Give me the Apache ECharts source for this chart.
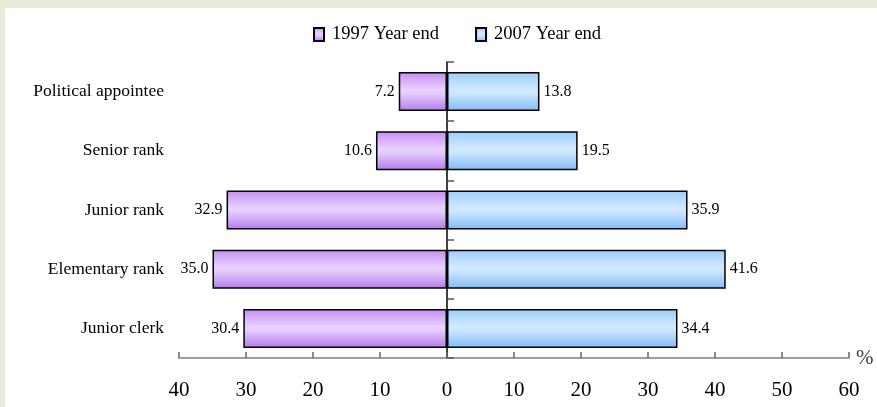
<!DOCTYPE html>
<html>
<head>
<meta charset="utf-8">
<script src="https://cdn.jsdelivr.net/npm/echarts@6/dist/echarts.min.js"></script>
<style>
html,body{margin:0;padding:0;background:#e9ead9;}
#c{width:877px;height:407px;}
</style>
</head>
<body>
<div id="c"></div>
<script>
const categories = ['Political appointee', 'Senior rank', 'Junior rank', 'Elementary rank', 'Junior clerk'];
const seriesNames = ['1997 Year end', '2007 Year end'];
const values1997 = [7.2, 10.6, 32.9, 35.0, 30.4];
const values2007 = [13.8, 19.5, 35.9, 41.6, 34.4];
const xTicks = { min: -40, max: 60, interval: 10 };

const FONT = 'Liberation Serif';
const purple = new echarts.graphic.LinearGradient(0, 0, 0, 1, [
  { offset: 0, color: '#c48cf5' },
  { offset: 0.45, color: '#e8d2ff' },
  { offset: 0.55, color: '#e4ccff' },
  { offset: 1, color: '#b57ae9' }
]);
const blue = new echarts.graphic.LinearGradient(0, 0, 0, 1, [
  { offset: 0, color: '#9dcdfc' },
  { offset: 0.45, color: '#d2e9ff' },
  { offset: 0.55, color: '#cde6ff' },
  { offset: 1, color: '#7fbcf5' }
]);

const chart = echarts.init(document.getElementById('c'), null, { renderer: 'canvas' });
chart.setOption({
  backgroundColor: '#e9ead9',
  animation: false,
  textStyle: { fontFamily: FONT },
  graphic: [{
    type: 'rect', z: -100, silent: true,
    shape: { x: 5, y: 8, width: 872, height: 399 },
    style: { fill: '#ffffff' }
  }],
  legend: {
    top: 20,
    left: 308,
    itemWidth: 10,
    itemHeight: 13,
    itemGap: 36,
    icon: 'rect',
    textStyle: { fontFamily: FONT, fontSize: 18.5, color: '#000', padding: [0, 0, 0, 3] },
    data: seriesNames
  },
  grid: { left: 179, right: 28, top: 62, bottom: 49 },
  xAxis: {
    type: 'value',
    min: xTicks.min, max: xTicks.max, interval: xTicks.interval,
    name: '%',
    nameLocation: 'end',
    nameGap: 7,
    nameTextStyle: { fontFamily: FONT, fontSize: 21, color: '#444', verticalAlign: 'middle' },
    axisLine: { show: true, onZero: false, lineStyle: { color: '#808080', width: 1.5 } },
    axisTick: { show: true, inside: true, length: 6, lineStyle: { color: '#666', width: 1.5 } },
    splitLine: { show: false },
    axisLabel: {
      margin: 22, fontFamily: FONT, fontSize: 21, color: '#000',
      formatter: v => String(Math.abs(v))
    }
  },
  yAxis: [{
    type: 'category',
    inverse: true,
    data: categories,
    axisLine: { show: false, onZero: false },
    axisTick: { show: false },
    axisLabel: { margin: 15, fontFamily: FONT, fontSize: 17.5, color: '#000' }
  }, {
    type: 'category',
    inverse: true,
    position: 'left',
    data: categories,
    axisLine: { show: true, onZero: true, lineStyle: { color: '#000', width: 1.5 } },
    axisTick: { show: true, inside: true, length: 7, lineStyle: { color: '#555', width: 1.5 } },
    axisLabel: { show: false }
  }],
  series: [{
    name: seriesNames[0],
    type: 'bar',
    yAxisIndex: 0,
    barWidth: 39,
    barGap: '-100%',
    data: values1997.map(v => -v),
    itemStyle: { color: purple, borderColor: '#000', borderWidth: 1.5 },
    label: {
      show: true, position: 'left', distance: 4,
      fontFamily: FONT, fontSize: 16, color: '#000',
      formatter: p => Math.abs(p.value).toFixed(1)
    }
  }, {
    name: seriesNames[1],
    type: 'bar',
    yAxisIndex: 0,
    barWidth: 39,
    barGap: '-100%',
    data: values2007,
    itemStyle: { color: blue, borderColor: '#000', borderWidth: 1.5 },
    label: {
      show: true, position: 'right', distance: 4,
      fontFamily: FONT, fontSize: 16, color: '#000',
      formatter: p => p.value.toFixed(1)
    }
  }]
});
</script>
</body>
</html>
